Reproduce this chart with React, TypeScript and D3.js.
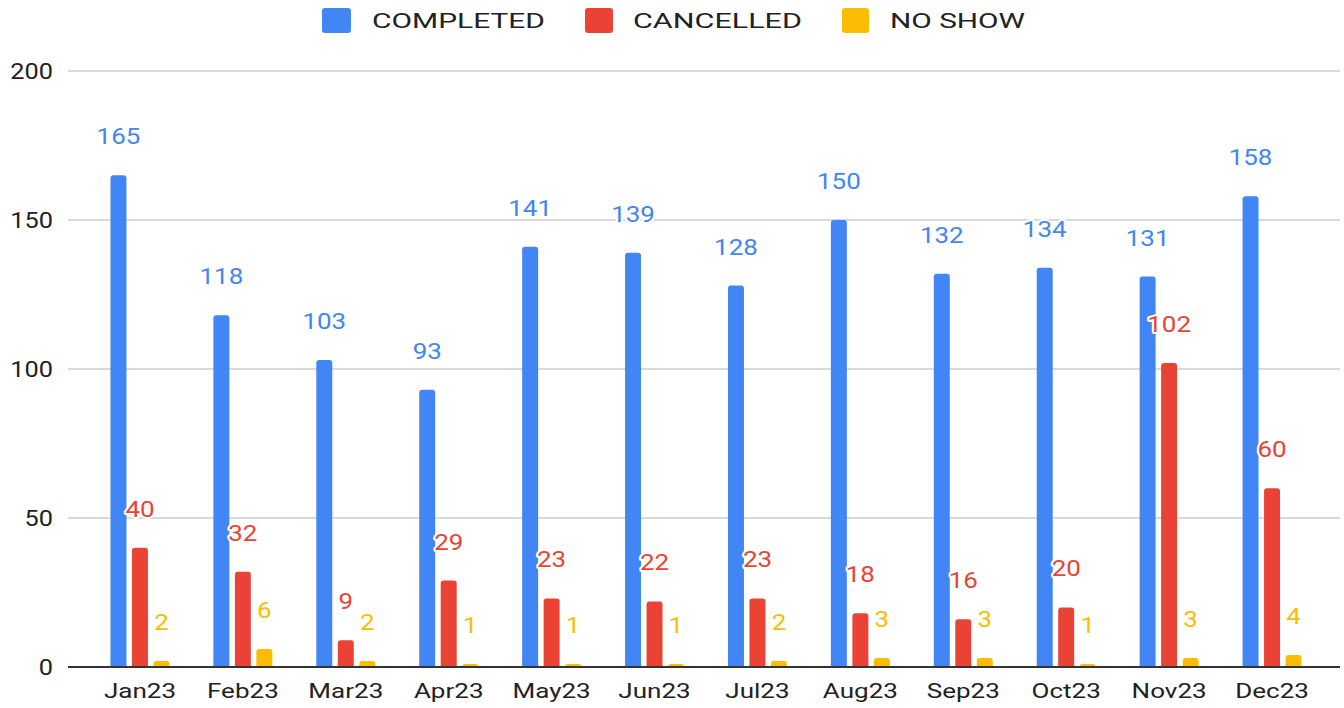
import React from "react";
import * as d3 from "d3";

const months = ["Jan23", "Feb23", "Mar23", "Apr23", "May23", "Jun23", "Jul23", "Aug23", "Sep23", "Oct23", "Nov23", "Dec23"];
const seriesNames = ["COMPLETED", "CANCELLED", "NO SHOW"];
const seriesColors = ["#4285F4", "#EA4335", "#FBBC04"];
const completed = [165, 118, 103, 93, 141, 139, 128, 150, 132, 134, 131, 158];
const cancelled = [40, 32, 9, 29, 23, 22, 23, 18, 16, 20, 102, 60];
const noShow = [2, 6, 2, 1, 1, 1, 2, 3, 3, 1, 3, 4];
const yTicks = [0, 50, 100, 150, 200];

const W = 1344;
const H = 708;
const FONT = "Roboto, 'Noto Sans', Arial, sans-serif";

function topRoundedBar(x: number, y: number, w: number, h: number, r: number) {
  const rr = Math.min(r, w / 2, h);
  if (h <= 0) return "";
  return `M${x},${y + h} V${y + rr} Q${x},${y} ${x + rr},${y} H${x + w - rr} Q${x + w},${y} ${x + w},${y + rr} V${y + h} Z`;
}

function SText(props: any) {
  const { x, y, sx = 1, children, ...rest } = props;
  return (
    <text transform={`translate(${x},${y}) scale(${sx},1)`} fontFamily={FONT} {...rest}>
      {children}
    </text>
  );
}

export default function App() {
  const series = [completed, cancelled, noShow];
  const x0 = d3.scaleBand<string>().domain(months).range([88.5, 1323.5]).paddingInner(0.427).paddingOuter(0.2135);
  const x1 = d3.scaleBand<number>().domain([0, 1, 2]).range([0, x0.bandwidth()]).paddingInner(0.256).paddingOuter(0);
  const y = d3.scaleLinear().domain([0, 200]).range([667, 71]);

  const legendItems = [
    { sq: 322, sqW: 29, tx: 372, tw: 173 },
    { sq: 585, sqW: 28, tx: 633, tw: 169 },
    { sq: 842, sqW: 27, tx: 890, tw: 135 },
  ];

  return (
    <svg width={W} height={H} style={{ position: "absolute", left: 0, top: 0, background: "#fff" }}>
      {/* legend */}
      {legendItems.map((l, i) => (
        <g key={i}>
          <rect x={l.sq} y={8} width={l.sqW} height={25} rx={3} fill={seriesColors[i]} />
          <text x={l.tx} y={28} fontFamily={FONT} fontSize={21} fill="#222" textLength={l.tw} lengthAdjust="spacingAndGlyphs">
            {seriesNames[i]}
          </text>
        </g>
      ))}

      {/* gridlines */}
      {yTicks.filter((t) => t !== 0).map((t) => (
        <line key={t} x1={68} x2={1340} y1={y(t)} y2={y(t)} stroke="#cccccc" strokeWidth={1.5} />
      ))}

      {/* y tick labels */}
      {yTicks.map((t) => (
        <SText key={t} x={53} y={y(t) + 8} sx={1.15} fontSize={22} fill="#222" textAnchor="end">
          {t}
        </SText>
      ))}

      {/* bars */}
      {months.map((m, mi) => (
        <g key={m}>
          {series.map((s, si) => {
            const bx = (x0(m) as number) + (x1(si) as number);
            const by = y(s[mi]);
            return (
              <path key={si} d={topRoundedBar(bx, by, x1.bandwidth(), y(0) - by, 3)} fill={seriesColors[si]} />
            );
          })}
        </g>
      ))}

      {/* baseline */}
      <line x1={68} x2={1340} y1={y(0)} y2={y(0)} stroke="#333" strokeWidth={2} />

      {/* data labels */}
      {months.map((m, mi) => (
        <g key={"l" + m}>
          {series.map((s, si) => {
            const cx = (x0(m) as number) + (x1(si) as number) + x1.bandwidth() / 2;
            return (
              <SText
                key={si}
                x={cx}
                y={y(s[mi]) - 31}
                sx={1.18}
                fontSize={22}
                fill={seriesColors[si]}
                stroke="#fff"
                strokeWidth={4}
                strokeLinejoin="round"
                paintOrder="stroke"
                textAnchor="middle"
              >
                {s[mi]}
              </SText>
            );
          })}
        </g>
      ))}

      {/* x labels */}
      {months.map((m) => (
        <SText key={"x" + m} x={(x0(m) as number) + x0.bandwidth() / 2} y={698} sx={1.24} fontSize={21} fill="#222" textAnchor="middle">
          {m}
        </SText>
      ))}
    </svg>
  );
}
